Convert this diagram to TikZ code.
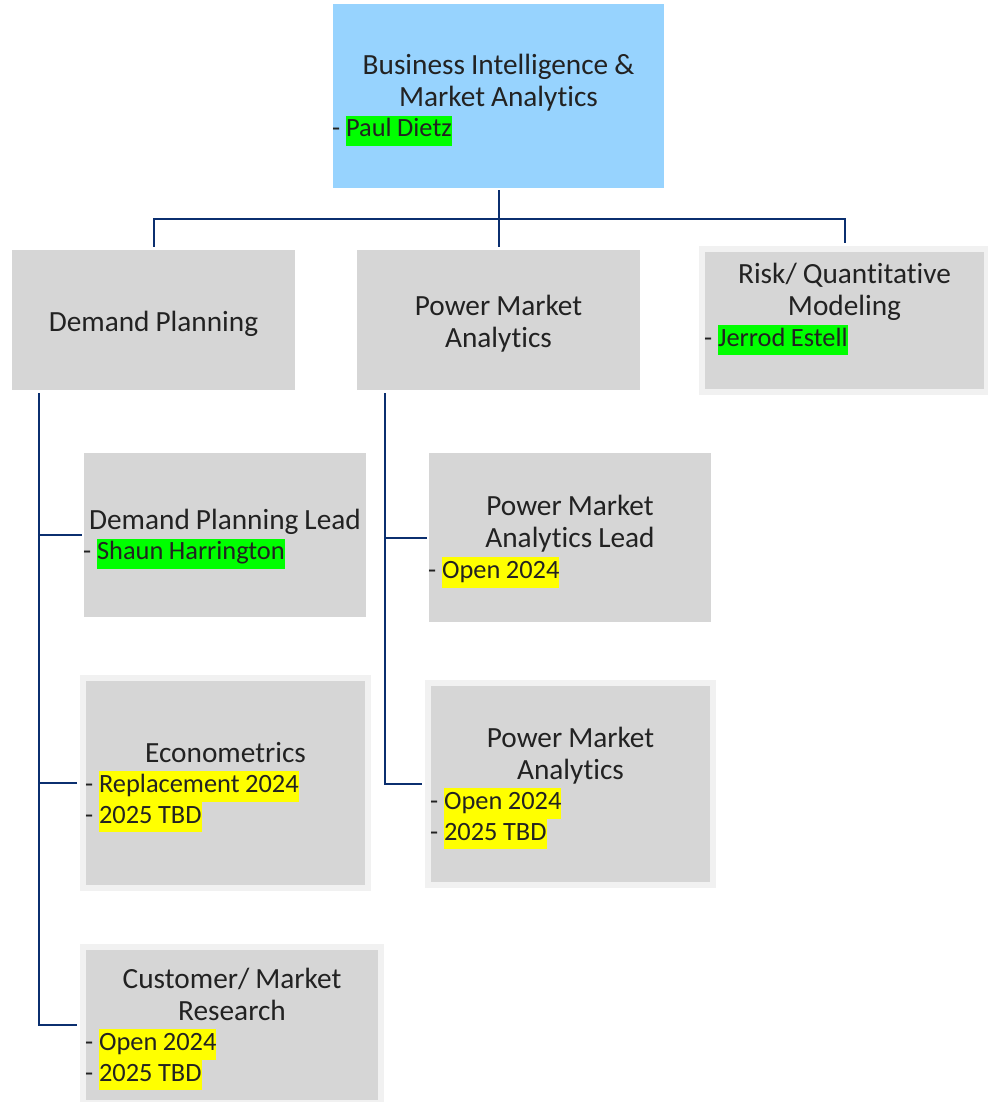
\documentclass[tikz,border=0pt]{standalone}
\usepackage{fontspec}
\setmainfont{Carlito}[Ligatures=NoCommon]
\usetikzlibrary{calc}

\definecolor{headblue}{HTML}{97D3FE}
\definecolor{boxgray}{HTML}{D6D6D6}
\definecolor{rimgray}{HTML}{F1F1F1}
\definecolor{linknavy}{HTML}{0B2F6F}
\definecolor{inkgray}{HTML}{222222}
\definecolor{hlgreen}{HTML}{00FF00}
\definecolor{hlyellow}{HTML}{FFFF00}

% title and bullet font sizes, with a fixed, tight word space
\newcommand\ttl{\fontsize{29.3}{32}\selectfont\spaceskip=6pt\relax}
\newcommand\bul{\fontsize{26.4}{30.5}\selectfont\spaceskip=5.5pt\relax}
% tall first line so the text block sits a little lower in its box
\newcommand\lead{\rule{0pt}{28.5pt}}
% highlighted names
\newcommand\hlg[1]{{\setlength\fboxsep{0pt}\colorbox{hlgreen}{\strut #1}}}
\newcommand\hly[1]{{\setlength\fboxsep{0pt}\colorbox{hlyellow}{\strut #1}}}
% one left-aligned bullet line
\newcommand\bline[1]{{\bul\makebox[\linewidth][l]{\hspace{-1pt}-\hspace{6pt}#1}\par}}

\tikzset{
  unitbox/.style={fill=boxgray, draw=none, inner sep=0pt, align=center,
    text=inkgray, font=\ttl},
  rimbox/.style={unitbox, draw=rimgray, line width=6pt},
  conn/.style={draw=linknavy, line width=2pt}
}

\begin{document}
\begin{tikzpicture}[x=1pt, y=-1pt]
\useasboundingbox[fill=white] (0,0) rectangle (987,1102);

% head of the unit
\node[unitbox, fill=headblue, minimum width=331pt, minimum height=184pt,
      text width=331pt] (top) at (498.5,96)
  {{\ttl\lead Business Intelligence \&\par Market Analytics\par}\bline{\hlg{Paul Dietz}}};

% second level
\node[unitbox, minimum width=283pt, minimum height=140pt, text width=283pt]
  (dp) at (153.5,320) {{\ttl\lead Demand Planning\par}};
\node[unitbox, minimum width=283pt, minimum height=140pt, text width=283pt]
  (pma) at (498.5,320) {{\ttl\lead Power Market\par Analytics\par}};
\node[rimbox, minimum width=285pt, minimum height=143pt, text width=279pt]
  (rq) at (844.5,320.5)
  {{\ttl\lead Risk/ Quantitative\par Modeling\par}\bline{\hlg{Jerrod Estell}}{\bul\strut\par}};

% demand planning team
\node[unitbox, minimum width=282pt, minimum height=164pt, text width=282pt]
  (dpl) at (225,535)
  {{\ttl\lead Demand Planning Lead\par}\bline{\hlg{Shaun Harrington}}};
\node[rimbox, minimum width=285pt, minimum height=210pt, text width=279pt]
  (eco) at (225.5,783)
  {{\ttl\lead Econometrics\par}\bline{\hly{Replacement 2024}}\bline{\hly{2025 TBD}}};
\node[rimbox, minimum width=298pt, minimum height=156pt, text width=292pt]
  (cmr) at (232,1025)
  {{\ttl\lead Customer/ Market\par Research\par}\bline{\hly{Open 2024}}\bline{\hly{2025 TBD}}};

% power market analytics team
\node[unitbox, minimum width=282pt, minimum height=169pt, text width=282pt]
  (pmal) at (570,537.5)
  {{\ttl\lead Power Market\par Analytics Lead\par}\bline{\hly{Open 2024}}};
\node[rimbox, minimum width=285pt, minimum height=202pt, text width=279pt]
  (pma2) at (570.5,784)
  {{\ttl\lead Power Market\par Analytics\par}\bline{\hly{Open 2024}}\bline{\hly{2025 TBD}}};

% reporting lines
\coordinate (bus) at (498.5,219);
\draw[conn] ([yshift=-2pt]top.south) -- ([yshift=3pt]pma.north);
\draw[conn] ([yshift=3pt]dp.north) |- (bus) -| ([yshift=3pt]rq.north);

\coordinate (dptrunk) at ([xshift=27pt]dp.south west);
\draw[conn] ([yshift=-3pt]dptrunk) |- ([xshift=-3pt]cmr.west);
\draw[conn] ([xshift=-2pt]dpl.west) -- (dpl.west -| dptrunk);
\draw[conn] ([xshift=-3pt]eco.west) -- (eco.west -| dptrunk);

\coordinate (pmtrunk) at ([xshift=28pt]pma.south west);
\draw[conn] ([yshift=-3pt]pmtrunk) |- ([xshift=-3pt]pma2.west);
\draw[conn] ([xshift=-2pt]pmal.west) -- (pmal.west -| pmtrunk);
\end{tikzpicture}
\end{document}
